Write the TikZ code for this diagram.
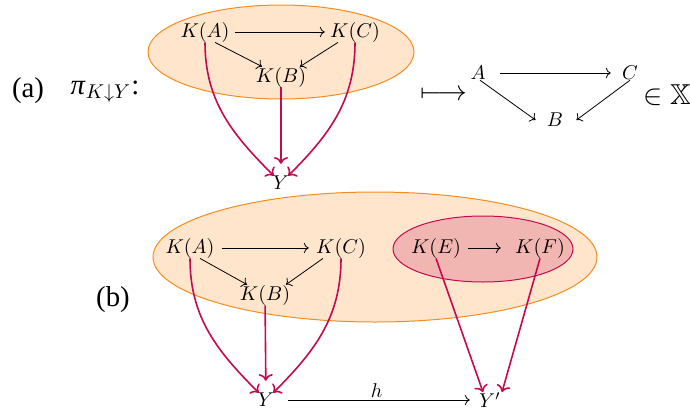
\documentclass[tikz,border=0pt]{standalone}
\usepackage{amssymb}
\usepackage{fontspec}
\setmainfont{Liberation Serif}
\usetikzlibrary{arrows.meta,positioning,shapes.geometric}
\definecolor{blobfill}{RGB}{255,229,204}
\definecolor{blobline}{RGB}{245,140,30}
\definecolor{mapred}{RGB}{196,10,80}
\definecolor{subfill}{RGB}{241,182,178}
\tikzset{
  obj/.style     = {inner xsep=2.5pt, inner ysep=0pt, font=\normalsize},
  tag/.style     = {inner sep=0pt, font=\Large},
  morph/.style   = {-To, thin},
  proj/.style    = {-To, thick, draw=mapred},
  blob/.style    = {draw=blobline, fill=blobfill, line width=0.5pt},
  subblob/.style = {draw=mapred, fill=subfill, line width=0.5pt},
}

\begin{document}
\begin{tikzpicture}[x=0.5pt, y=-0.5pt]
\useasboundingbox (0,0) rectangle (690,413);

\filldraw[blob] (281,52) ellipse [x radius=133, y radius=47];

\node[tag] (tagA) at (28,91)  {(a)};
\node[tag] (pi) at (105,92) {\textit{π}$_{K\downarrow Y}$:};

\node[obj] (ka) at (205,32)  {$K(A)$};
\node[obj] (kc) at (355,32)  {$K(C)$};
\node[obj] (kb) at (281,77)  {$K(B)$};
\node[obj] (y)  at (281,183) {$Y$};

\draw[morph] (ka) -- (kc);
\draw[morph] ([xshift=5pt]ka.south) -- ([xshift=-9.5pt]kb.north);
\draw[morph] ([xshift=-8.5pt]kc.south) -- ([xshift=9.5pt]kb.north);
\draw[proj] (ka.south) to[out=-90, in=135] (y);
\draw[proj, shorten >=6pt] (kb) -- (y);
\draw[proj] (kc.south) to[out=-90, in=45] (y);

\node[tag] (mt) at (444,95) {$\longmapsto$};
\node[obj] (a) at (478,73)  {$A$};
\node[obj] (c) at (630,73)  {$C$};
\node[obj] (b) at (555,120) {$B$};
\node[tag] (inx) at (667,95) {$\in\mathbb{X}$};
\draw[morph, shorten <=4.5pt, shorten >=3pt] (a) -- (c);
\draw[morph] ([xshift=1pt]a.south) -- ([xshift=-3pt]b.west);
\draw[morph] (c.south) -- ([xshift=4pt]b.east);

\filldraw[blob] (375,257) ellipse [x radius=222, y radius=65];
\filldraw[subblob] (483,249) ellipse [x radius=90, y radius=33];

\node[tag] (tagB) at (113,300) {(b)};

\node[obj] (ka2) at (190,248) {$K(A)$};
\node[obj] (kc2) at (341,248) {$K(C)$};
\node[obj] (kb2) at (265,295) {$K(B)$};
\node[obj] (ke)  at (436,248) {$K(E)$};
\node[obj] (kf)  at (540,248) {$K(F)$};
\node[obj] (y2)  at (266,400) {$Y$};
\node[obj] (yp)  at (490,400) {$Y'$};

\draw[morph, shorten <=1pt, shorten >=1pt] (ka2) -- (kc2);
\draw[morph] ([xshift=5pt]ka2.south) -- ([xshift=-9pt]kb2.north);
\draw[morph] ([xshift=-9pt]kc2.south) -- ([xshift=10.5pt]kb2.north);
\draw[morph, shorten <=1pt, shorten >=4.5pt] (ke) -- (kf);
\draw[morph, shorten <=4.5pt, shorten >=2pt] (y2) -- node[above, inner sep=1pt] {$h$} (yp);
\draw[proj] (ka2.south) to[out=-90, in=135] (y2);
\draw[proj, shorten >=6pt] (kb2) -- (y2);
\draw[proj] (kc2.south) to[out=-90, in=45] (y2);
\draw[proj] (ke.south) -- ([xshift=-3.5pt]yp.north);
\draw[proj] (kf.south) -- ([xshift=6pt]yp.north);
\end{tikzpicture}
\end{document}
